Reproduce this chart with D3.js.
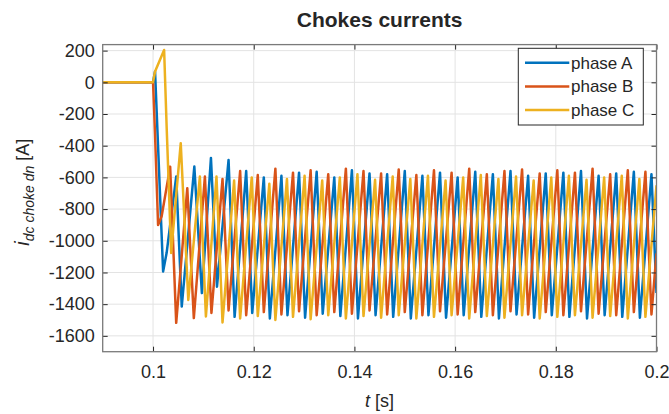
<!DOCTYPE html>
<meta charset="utf-8">
<head>
<title>Chokes currents</title>
<script src="https://d3js.org/d3.v7.min.js"></script>
<style>
  body { margin: 0; background: #fff; }
  text { font-family: "Liberation Sans", Arial, sans-serif; fill: #262626; }
</style>
</head>
<body>
<svg id="chart"></svg>
<script>
// phase A (blue)
var tA = [0.0900, 0.1000, 0.1004, 0.1020, 0.1027, 0.1046, 0.1057, 0.1082, 0.1097, 0.1115, 0.1127,
  0.1150, 0.1162, 0.1185, 0.1197, 0.1220, 0.1232, 0.1255, 0.1267, 0.1290, 0.1302,
  0.1325, 0.1337, 0.1360, 0.1372, 0.1395, 0.1407, 0.1430, 0.1442, 0.1465, 0.1477,
  0.1500, 0.1512, 0.1535, 0.1547, 0.1570, 0.1582, 0.1605, 0.1617, 0.1640, 0.1652,
  0.1675, 0.1687, 0.1710, 0.1722, 0.1745, 0.1757, 0.1780, 0.1792, 0.1815, 0.1827,
  0.1850, 0.1862, 0.1885, 0.1897, 0.1920, 0.1932, 0.1955, 0.1967, 0.1990, 0.2000];
var iA = [0, 0, 68, -1194, -1076, -595, -1415, -532, -1330, -477, -1290,
  -490, -1480, -560, -1455, -600, -1490, -590, -1470, -570, -1485,
  -565, -1460, -600, -1475, -555, -1490, -575, -1470, -580, -1480,
  -560, -1490, -590, -1470, -570, -1485, -600, -1470, -565, -1480,
  -580, -1490, -560, -1465, -590, -1485, -575, -1470, -570, -1480,
  -560, -1490, -590, -1470, -575, -1480, -565, -1485, -580, -1330];

// phase B (red)
var tB = [0.0900, 0.1000, 0.1004, 0.1010, 0.1017, 0.1034, 0.1046, 0.1068, 0.1081, 0.1103, 0.1116,
  0.1138, 0.1150, 0.1173, 0.1185, 0.1208, 0.1220, 0.1243, 0.1255, 0.1278, 0.1290,
  0.1313, 0.1325, 0.1348, 0.1360, 0.1383, 0.1395, 0.1418, 0.1430, 0.1453, 0.1465,
  0.1488, 0.1500, 0.1523, 0.1535, 0.1558, 0.1570, 0.1593, 0.1605, 0.1628, 0.1640,
  0.1663, 0.1675, 0.1698, 0.1710, 0.1733, 0.1745, 0.1768, 0.1780, 0.1803, 0.1815,
  0.1838, 0.1850, 0.1873, 0.1885, 0.1908, 0.1920, 0.1943, 0.1955, 0.1978, 0.1990, 0.2000];
var iB = [0, 0, -332, -900, -847, -532, -1518, -668, -1488, -595, -1455,
  -610, -1440, -560, -1470, -585, -1450, -545, -1465, -570, -1445,
  -555, -1470, -580, -1450, -545, -1460, -560, -1440, -575, -1465,
  -550, -1450, -585, -1470, -555, -1445, -570, -1465, -545, -1450,
  -580, -1470, -560, -1445, -550, -1465, -575, -1450, -555, -1470,
  -570, -1445, -545, -1460, -580, -1470, -555, -1450, -565, -1465, -1080];

// phase C (yellow)
var tC = [0.0900, 0.1000, 0.1004, 0.1022, 0.1027, 0.1036, 0.1055, 0.1070, 0.1093, 0.1105, 0.1126, 0.1138,
  0.1161, 0.1173, 0.1196, 0.1208, 0.1231, 0.1243, 0.1266, 0.1278, 0.1301, 0.1313,
  0.1336, 0.1348, 0.1371, 0.1383, 0.1406, 0.1418, 0.1441, 0.1453, 0.1476, 0.1488,
  0.1511, 0.1523, 0.1546, 0.1558, 0.1581, 0.1593, 0.1616, 0.1628, 0.1651, 0.1663,
  0.1686, 0.1698, 0.1721, 0.1733, 0.1756, 0.1768, 0.1791, 0.1803, 0.1826, 0.1838,
  0.1861, 0.1873, 0.1896, 0.1908, 0.1931, 0.1943, 0.1966, 0.1978, 0.2000];
var iC = [0, 0, 68, 204, -280, -1077, -384, -1373, -595, -1478, -595, -1515,
  -620, -1490, -600, -1475, -640, -1500, -610, -1480, -590, -1495,
  -620, -1470, -600, -1490, -580, -1475, -615, -1485, -595, -1470,
  -610, -1490, -590, -1480, -620, -1470, -600, -1490, -585, -1475,
  -610, -1485, -595, -1470, -620, -1490, -600, -1480, -590, -1470,
  -615, -1485, -600, -1475, -590, -1490, -610, -1480, -650];

var seriesNames = ["phase A", "phase B", "phase C"];
var seriesColors = ["#0072BD", "#D95319", "#EDB120"];
var xTicks = [0.1, 0.12, 0.14, 0.16, 0.18, 0.2];
var xTickLabels = ["0.1", "0.12", "0.14", "0.16", "0.18", "0.2"];
var yTicks = [200, 0, -200, -400, -600, -800, -1000, -1200, -1400, -1600];

var W = 669, H = 414;
var margin = {top: 44.6, right: 12.5, bottom: 62.3, left: 102.7};
var width = W - margin.left - margin.right;
var height = H - margin.top - margin.bottom;

var x = d3.scaleLinear().domain([0.09, 0.2]).range([0, width]);
var y = d3.scaleLinear().domain([-1700, 238]).range([height, 0]);

var svg = d3.select("#chart").attr("width", W).attr("height", H);
svg.append("rect").attr("width", W).attr("height", H).attr("fill", "#fff");

var g = svg.append("g")
    .attr("transform", "translate(" + margin.left + "," + margin.top + ")");

// grid
g.selectAll(".gx").data(xTicks).enter().append("line")
    .attr("x1", d => x(d)).attr("x2", d => x(d))
    .attr("y1", 0).attr("y2", height)
    .attr("stroke", "#e3e3e3").attr("stroke-width", 1);
g.selectAll(".gy").data(yTicks).enter().append("line")
    .attr("x1", 0).attr("x2", width)
    .attr("y1", d => y(d)).attr("y2", d => y(d))
    .attr("stroke", "#e3e3e3").attr("stroke-width", 1);

// data lines
g.append("clipPath").attr("id", "clip").append("rect")
    .attr("width", width).attr("height", height);

var series = [
  {t: tA, v: iA},
  {t: tB, v: iB},
  {t: tC, v: iC}
];
var line = d3.line().x(d => x(d[0])).y(d => y(d[1]));
series.forEach(function(s, k) {
  var pts = s.t.map((t, i) => [t, s.v[i]]);
  g.append("path")
      .datum(pts)
      .attr("clip-path", "url(#clip)")
      .attr("fill", "none")
      .attr("stroke", seriesColors[k])
      .attr("stroke-width", 2.5)
      .attr("stroke-linejoin", "round")
      .attr("d", line);
});

// axes (ticks inward, MATLAB box style)
var fmtX = d => xTickLabels[xTicks.indexOf(d)];
var fmtY = d => String(d);
var xAxis = g.append("g").attr("transform", "translate(0," + height + ")")
    .call(d3.axisBottom(x).tickValues(xTicks).tickFormat(fmtX).tickSizeInner(-5).tickSizeOuter(0).tickPadding(14));
var xTop = g.append("g")
    .call(d3.axisTop(x).tickValues(xTicks).tickFormat("").tickSizeInner(-5).tickSizeOuter(0));
var yAxis = g.append("g")
    .call(d3.axisLeft(y).tickValues(yTicks).tickFormat(fmtY).tickSizeInner(-5).tickSizeOuter(0).tickPadding(8));
var yRight = g.append("g").attr("transform", "translate(" + width + ",0)")
    .call(d3.axisRight(y).tickValues(yTicks).tickFormat("").tickSizeInner(-5).tickSizeOuter(0));

[xAxis, xTop, yAxis, yRight].forEach(function(a) {
  a.select(".domain").remove();
  a.selectAll(".tick line").attr("stroke", "#262626").attr("stroke-width", 1);
  a.selectAll(".tick text").attr("font-size", 18).attr("fill", "#262626")
      .attr("font-family", "'Liberation Sans', Arial, sans-serif");
});

g.append("rect")
    .attr("width", width).attr("height", height)
    .attr("fill", "none").attr("stroke", "#7a7a7a").attr("stroke-width", 1.3);

// title
svg.append("text")
    .attr("x", margin.left + width / 2).attr("y", 27)
    .attr("text-anchor", "middle")
    .attr("font-size", 21).attr("font-weight", "bold")
    .attr("fill", "#000")
    .text("Chokes currents");

// x label
var xl = svg.append("text")
    .attr("x", margin.left + width / 2).attr("y", 407)
    .attr("text-anchor", "middle").attr("font-size", 18);
xl.append("tspan").attr("font-style", "italic").text("t");
xl.append("tspan").text(" [s]");

// y label
var yl = svg.append("text")
    .attr("transform", "translate(29," + (margin.top + height / 2 - 6) + ") rotate(-90)")
    .attr("text-anchor", "middle").attr("font-size", 18);
yl.append("tspan").attr("font-style", "italic").attr("font-size", 20).text("i");
yl.append("tspan").attr("font-style", "italic").attr("font-size", 14).attr("dy", 5).text("dc choke dn");
yl.append("tspan").attr("dy", -5).text(" [A]");

// legend
var lg = svg.append("g");
lg.append("rect")
    .attr("x", 518.3).attr("y", 48.3).attr("width", 125).attr("height", 76.7)
    .attr("fill", "#fff").attr("stroke", "#262626").attr("stroke-width", 1);
seriesNames.forEach(function(name, k) {
  var yy = 62.7 + k * 23.7;
  lg.append("line")
      .attr("x1", 525).attr("x2", 569.3).attr("y1", yy).attr("y2", yy)
      .attr("stroke", seriesColors[k]).attr("stroke-width", 2.5);
  lg.append("text")
      .attr("x", 571).attr("y", yy).attr("dy", "0.35em")
      .attr("font-size", 17).attr("fill", "#000")
      .text(name);
});
</script>
</body>
